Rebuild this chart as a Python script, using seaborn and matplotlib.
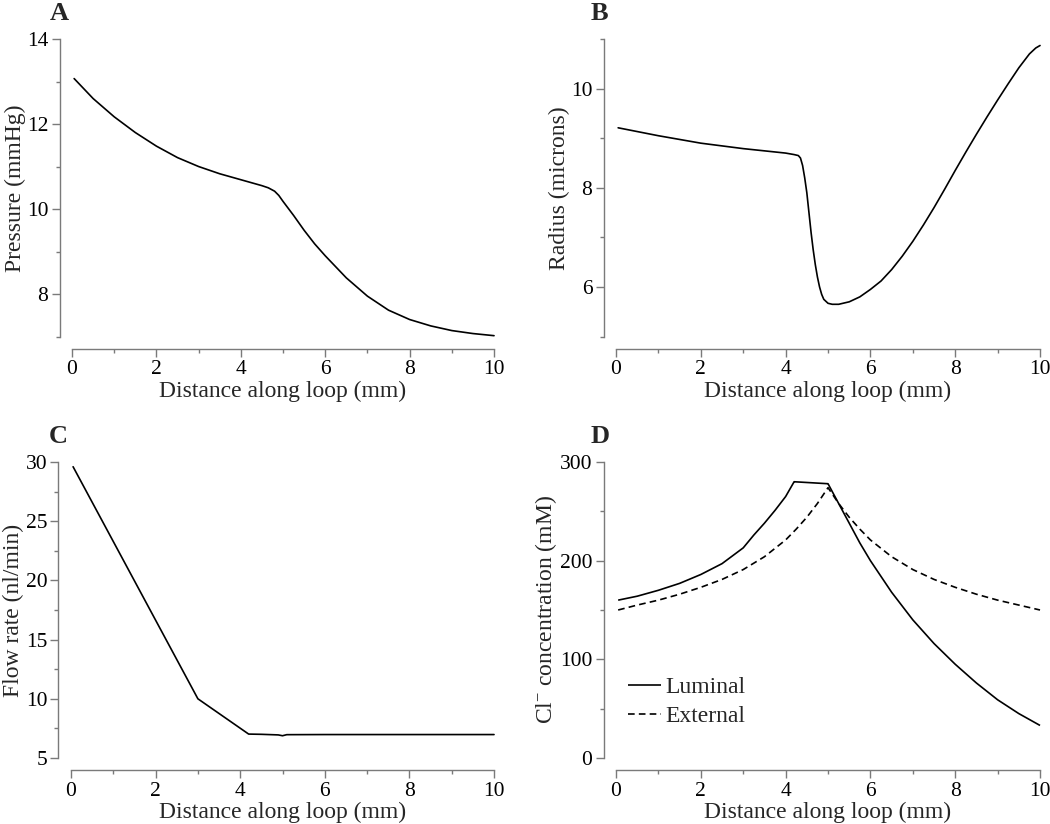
import numpy as np
import pandas as pd
import matplotlib
matplotlib.use('Agg')
import matplotlib.pyplot as plt
from matplotlib.ticker import MultipleLocator
import seaborn as sns

# panel A: pressure
a_x = [0.05, 0.5, 1, 1.5, 2, 2.5, 3, 3.5, 4, 4.25, 4.5, 4.65, 4.8, 4.9, 5.0, 5.25, 5.5, 5.75,
       6, 6.5, 7, 7.5, 8, 8.5, 9, 9.5, 10]
a_y = [13.07, 12.6, 12.17, 11.8, 11.48, 11.21, 11.0, 10.83, 10.69, 10.62, 10.55, 10.5, 10.42,
       10.32, 10.18, 9.85, 9.5, 9.18, 8.9, 8.38, 7.95, 7.62, 7.4, 7.25, 7.14, 7.07, 7.02]

# panel B: radius
b_x = [0.05, 1, 2, 3, 4, 4.2, 4.3, 4.35, 4.4, 4.45, 4.5, 4.55, 4.6, 4.65, 4.7, 4.75, 4.8, 4.85,
       4.9, 5.0, 5.1, 5.25, 5.5, 5.75, 6, 6.25, 6.5, 6.75, 7, 7.25, 7.5, 7.75, 8, 8.25, 8.5,
       8.75, 9, 9.25, 9.5, 9.75, 9.9, 10]
b_y = [9.21, 9.05, 8.9, 8.79, 8.7, 8.67, 8.65, 8.6, 8.45, 8.2, 7.9, 7.5, 7.1, 6.75, 6.45, 6.2,
       6.0, 5.85, 5.75, 5.67, 5.65, 5.65, 5.7, 5.8, 5.95, 6.12, 6.35, 6.62, 6.92, 7.25, 7.6,
       7.97, 8.35, 8.72, 9.08, 9.43, 9.77, 10.1, 10.42, 10.7, 10.82, 10.87]

# panel C: flow rate
c_x = [0.05, 3.0, 4.2, 4.5, 4.9, 5.0, 5.1, 6, 8, 10]
c_y = [29.6, 10.0, 7.02, 7.0, 6.95, 6.88, 6.97, 6.98, 6.98, 6.98]

# panel D: Cl- concentration
lum_x = [0.05, 0.5, 1, 1.5, 2, 2.5, 3.0, 3.25, 3.5, 3.75, 4.0, 4.2, 5.0, 5.25, 5.5, 5.75, 6,
         6.5, 7, 7.5, 8, 8.5, 9, 9.5, 10]
lum_y = [160, 164, 170, 177, 186, 197, 213, 226, 238, 251, 265, 280, 278, 258, 238, 218, 200,
         168, 140, 116, 95, 76, 59, 45, 33]
ext_x = [0.05, 0.5, 1, 1.5, 2, 2.5, 3, 3.5, 4, 4.25, 4.5, 4.75, 5.0, 5.25, 5.5, 5.75, 6, 6.5,
         7, 7.5, 8, 8.5, 9, 9.5, 10]
ext_y = [150, 155, 160, 166, 173, 181, 191, 204, 221, 232, 244, 258, 274, 258, 244, 232, 221,
         204, 191, 181, 173, 166, 160, 155, 150]

sns.set_theme(style='ticks')
plt.rcParams['font.family'] = ['Liberation Serif', 'DejaVu Serif']
plt.rcParams['mathtext.fontset'] = 'custom'
plt.rcParams['mathtext.rm'] = 'Liberation Serif'
plt.rcParams['mathtext.it'] = 'Liberation Serif:italic'

grey = '#7a7a7a'
fig = plt.figure(figsize=(10.5, 8.24), dpi=100)

axA = fig.add_axes([0.0686, 0.5916, 0.4019, 0.3610])
axB = fig.add_axes([0.5867, 0.5916, 0.4038, 0.3610])
axC = fig.add_axes([0.0676, 0.0801, 0.4029, 0.3592])
axD = fig.add_axes([0.5867, 0.0801, 0.4038, 0.3592])

sns.lineplot(x=a_x, y=a_y, ax=axA, color='black', lw=1.2)
sns.lineplot(x=b_x, y=b_y, ax=axB, color='black', lw=1.2)
sns.lineplot(x=c_x, y=c_y, ax=axC, color='black', lw=1.2)

dfD = pd.concat([pd.DataFrame({'x': lum_x, 'y': lum_y, 'kind': 'Luminal'}),
                 pd.DataFrame({'x': ext_x, 'y': ext_y, 'kind': 'External'})])
sns.lineplot(data=dfD, x='x', y='y', hue='kind', style='kind', ax=axD,
             palette=['black', 'black'], dashes=[(1, 0), (4, 2.5)], lw=1.2)

setup = [
    (axA, (7, 14), 2, 1, 'Pressure (mmHg)', 'A', -0.03),
    (axB, (5, 11), 2, 1, 'Radius (microns)', 'B', -0.038),
    (axC, (5, 30), 5, 2.5, 'Flow rate (nl/min)', 'C', -0.03),
    (axD, (0, 300), 100, 50, 'Cl$^{-}$ concentration (mM)', 'D', -0.038),
]
for ax, ylim, ymaj, ymin, ylab, letter, lx in setup:
    ax.set_xlim(0, 10)
    ax.set_ylim(*ylim)
    ax.xaxis.set_major_locator(MultipleLocator(2))
    ax.xaxis.set_minor_locator(MultipleLocator(1))
    ax.yaxis.set_major_locator(MultipleLocator(ymaj))
    ax.yaxis.set_minor_locator(MultipleLocator(ymin))
    for side in ['top', 'right']:
        ax.spines[side].set_visible(False)
    for side in ['left', 'bottom']:
        ax.spines[side].set_position(('outward', 9))
        ax.spines[side].set_color(grey)
        ax.spines[side].set_linewidth(1.0)
    ax.tick_params(which='major', length=6, width=1.0, color=grey, labelsize=15.5,
                   labelcolor='black', pad=2)
    ax.tick_params(which='minor', length=3, width=1.0, color=grey)
    ax.set_xlabel('Distance along loop (mm)', fontsize=17, labelpad=1)
    ax.set_ylabel(ylab, fontsize=17, labelpad=1)
    for ln in ax.lines:
        ln.set_clip_on(False)
    ax.text(lx, 1.064, letter, transform=ax.transAxes, fontsize=19, fontweight='bold',
            ha='center', va='baseline')

leg = axD.legend(loc='lower left', bbox_to_anchor=(0.0, 0.065), frameon=False, fontsize=17,
                 handlelength=1.4, handletextpad=0.2, labelspacing=0.3, borderpad=0)
for h in leg.get_lines():
    h.set_linewidth(1.2)

fig.savefig('out.png', dpi=100)
